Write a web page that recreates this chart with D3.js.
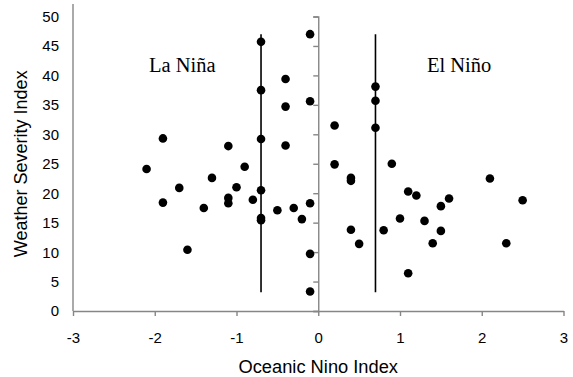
<!DOCTYPE html>
<html>
<head>
<meta charset="utf-8">
<script src="https://cdn.jsdelivr.net/npm/d3@7"></script>
<style>
  body { margin: 0; background: #fff; }
  svg { display: block; }
  .sans { font-family: Arial, "Liberation Sans", sans-serif; }
  .serif { font-family: "Times New Roman", "Liberation Serif", serif; }
</style>
</head>
<body>
<svg id="chart"></svg>
<script>
// La Niña years (ONI < 0)
const ninaOni = [-2.1, -1.9, -1.9, -1.7, -1.6, -1.4, -1.3, -1.1, -1.1, -1.1, -1.0, -0.9, -0.8,
  -0.7, -0.7, -0.7, -0.7, -0.7, -0.7, -0.5, -0.4, -0.4, -0.4, -0.3, -0.2, -0.1, -0.1, -0.1, -0.1, -0.1]
const ninaSeverity = [24.1, 29.3, 18.4, 20.9, 10.4, 17.5, 22.6, 28.0, 19.2, 18.3, 21.0, 24.5, 18.9,
  45.7, 37.5, 29.2, 20.5, 15.8, 15.4, 17.1, 39.4, 34.7, 28.1, 17.5, 15.6, 47.0, 35.6, 18.3, 9.7, 3.3]

// El Niño years (ONI > 0)
const ninoOni = [0.2, 0.2, 0.4, 0.4, 0.4, 0.5, 0.7, 0.7, 0.7, 0.8, 0.9, 1.0, 1.1, 1.1, 1.2,
  1.3, 1.4, 1.5, 1.5, 1.6, 2.1, 2.3, 2.5]
const ninoSeverity = [31.5, 24.9, 22.1, 22.6, 13.8, 11.4, 38.1, 35.7, 31.1, 13.7, 25.0, 15.7, 20.3, 6.4, 19.6,
  15.3, 11.5, 17.8, 13.6, 19.1, 22.5, 11.5, 18.8]

// range lines drawn at +/-0.7
const rangeX = [-0.7, 0.7]
const rangeLow = 3.2
const rangeHigh = 47

const xTicks = [-3, -2, -1, 0, 1, 2, 3]
const yTicks = [0, 5, 10, 15, 20, 25, 30, 35, 40, 45, 50]
const phaseLabels = ['La Niña', 'El Niño']
const phaseLabelX = [-2.07, 1.33]
const phaseLabelY = 40.6

const width = 573
const height = 377
const margin = { top: 16.5, right: 9.5, bottom: 66, left: 73 }
const AXIS = '#868686'

const svg = d3.select('#chart')
  .attr('width', width)
  .attr('height', height)

const x = d3.scaleLinear()
  .domain([ -3, 3 ])
  .range([ margin.left, width - margin.right ])

const y = d3.scaleLinear()
  .domain([ 0, 50 ])
  .range([ height - margin.bottom, margin.top ])

const points = ninaOni.map((v, i) => ({ x: v, y: ninaSeverity[i] }))
  .concat(ninoOni.map((v, i) => ({ x: v, y: ninoSeverity[i] })))

// left border of plot area
svg.append('line')
  .attr('x1', x(-3)).attr('x2', x(-3))
  .attr('y1', 4).attr('y2', y(0))
  .attr('stroke', AXIS)
  .attr('stroke-width', 1.4)

// y tick labels sit at the left
svg.append('g')
  .attr('class', 'sans')
  .selectAll('text')
  .data(yTicks)
  .join('text')
    .attr('x', 59)
    .attr('y', (d) => y(d))
    .attr('dy', '0.36em')
    .attr('text-anchor', 'end')
    .attr('font-size', 15)
    .attr('fill', '#000')
    .text((d) => d)

// y axis crossing at x = 0
const yAxis = svg.append('g')
  .attr('transform', `translate(${x(0)},0)`)
  .call(d3.axisLeft(y).tickValues(yTicks).tickSize(5).tickSizeOuter(5).tickFormat(''))
yAxis.selectAll('path, line').attr('stroke', AXIS).attr('stroke-width', 1.4)

// x axis
const xAxis = svg.append('g')
  .attr('class', 'sans')
  .attr('transform', `translate(0,${y(0)})`)
  .call(d3.axisBottom(x).tickValues(xTicks).tickSize(5).tickSizeOuter(0).tickPadding(16)
    .tickFormat((d) => String(d)))
xAxis.selectAll('path, line').attr('stroke', AXIS).attr('stroke-width', 1.4)
xAxis.selectAll('text')
  .attr('font-size', 15)
  .attr('font-family', 'Arial, "Liberation Sans", sans-serif')
  .attr('fill', '#000')

// range lines
svg.append('g')
  .selectAll('line')
  .data(rangeX)
  .join('line')
    .attr('x1', (d) => x(d)).attr('x2', (d) => x(d))
    .attr('y1', y(rangeLow)).attr('y2', y(rangeHigh))
    .attr('stroke', '#000')
    .attr('stroke-width', 1.6)

// points
svg.append('g')
  .selectAll('circle')
  .data(points)
  .join('circle')
    .attr('cx', (d) => x(d.x))
    .attr('cy', (d) => y(d.y))
    .attr('r', 4.3)
    .attr('fill', '#000')

// phase labels
svg.append('g')
  .attr('class', 'serif')
  .selectAll('text')
  .data(phaseLabels)
  .join('text')
    .attr('x', (d, i) => x(phaseLabelX[i]))
    .attr('y', y(phaseLabelY))
    .attr('font-size', 20.5)
    .attr('fill', '#000')
    .text((d) => d)

// axis titles
svg.append('text')
  .attr('class', 'sans')
  .attr('x', x(0))
  .attr('y', 372.5)
  .attr('text-anchor', 'middle')
  .attr('font-size', 18.3)
  .text('Oceanic Nino Index')

svg.append('text')
  .attr('class', 'sans')
  .attr('transform', `translate(27,${(y(0) + y(50)) / 2}) rotate(-90)`)
  .attr('text-anchor', 'middle')
  .attr('font-size', 18)
  .text('Weather Severity Index')
</script>
</body>
</html>
